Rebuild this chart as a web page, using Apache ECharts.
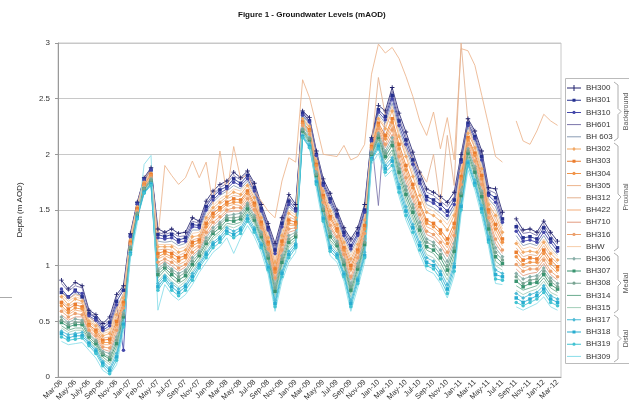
<!DOCTYPE html>
<html>
<head>
<meta charset="utf-8">
<script src="https://cdn.jsdelivr.net/npm/echarts@6/dist/echarts.min.js"></script>
<style>
html, body { margin: 0; padding: 0; background: #fff; }
#chart { width: 629px; height: 410px; }
</style>
</head>
<body>
<div id="chart"></div>
<script>
// monthly readings, Mar-06 .. Mar-12
const months = ["Mar-06","Apr-06","May-06","Jun-06","Jul-06","Aug-06","Sep-06","Oct-06","Nov-06","Dec-06",
  "Jan-07","Feb-07","Mar-07","Apr-07","May-07","Jun-07","Jul-07","Aug-07","Sep-07","Oct-07",
  "Nov-07","Dec-07","Jan-08","Feb-08","Mar-08","Apr-08","May-08","Jun-08","Jul-08","Aug-08",
  "Sep-08","Oct-08","Nov-08","Dec-08","Jan-09","Feb-09","Mar-09","Apr-09","May-09","Jun-09",
  "Jul-09","Aug-09","Sep-09","Oct-09","Nov-09","Dec-09","Jan-10","Feb-10","Mar-10","Apr-10",
  "May-10","Jun-10","Jul-10","Aug-10","Sep-10","Oct-10","Nov-10","Dec-10","Jan-11","Feb-11",
  "Mar-11","Apr-11","May-11","Jun-11","Jul-11","Aug-11","Sep-11","Oct-11","Nov-11","Dec-11",
  "Jan-12","Feb-12","Mar-12"];
// labels shown on every second category
const tickLabels = ["Mar-06","May-06","July-06","Sep-06","Nov-06","Jan-07","Feb-07","May-07","Jul-07","Sep-07",
  "Nov-07","Jan-08","Mar-08","May-08","Jul-08","Sep-08","Nov-08","Jan-09","Mar-09","May-09",
  "Jul-09","Sep-09","Nov-09","Jan-10","Mar-10","May-10","Jul-10","Sep-10","Nov-10","Jan-11",
  "Mar-11","May-11","Jul-11","Sep-11","Nov-11","Jan-12","Mar-12"];

// Background
const bh300 = [.87,.79,.85,.82,.60,.56,.48,.54,.74,.82, 1.29,1.57,1.79,1.88,1.33,1.30,1.33,1.29,1.30,1.43, 1.40,1.58,1.67,1.73,1.76,1.84,1.79,1.85,1.74,1.55, 1.38,1.20,1.43,1.64,1.55,2.39,2.33,2.03,1.78,1.65, 1.50,1.34,1.24,1.34,1.55,2.15,2.44,2.39,2.60,2.37, 2.20,2.02,1.84,1.69,1.66,1.62,1.57,1.66,2.00,2.32, 2.21,2.03,1.70,1.69,1.48,null,1.42,1.32,1.33,1.30, 1.40,1.30,1.22];
const bh301 = [.76,.72,.78,.72,.57,.53,.44,.49,.68,.78, 1.27,1.56,1.78,1.86,1.28,1.26,1.28,1.23,1.25,1.37, 1.36,1.53,1.62,1.68,1.71,1.78,1.74,1.81,1.70,1.51, 1.34,1.14,1.38,1.58,1.51,2.37,2.30,2.00,1.74,1.60, 1.46,1.30,1.18,1.29,1.50,2.13,2.40,2.34,2.53,2.30, 2.13,1.95,1.77,1.62,1.59,1.55,1.49,1.59,1.95,2.28, 2.16,1.98,1.65,1.61,1.42,null,1.35,1.25,1.26,1.24, 1.34,1.24,1.16];
const bh310 = [.79,.72,.77,.75,.55,.51,.42,.46,.65,.24, 1.26,1.55,1.77,1.86,1.25,1.24,1.25,1.21,1.22,1.35, 1.34,1.50,1.59,1.65,1.69,1.75,1.72,1.78,1.67,1.49, 1.32,1.11,1.35,1.55,1.49,2.35,2.29,1.99,1.72,1.57, 1.44,1.27,1.15,1.27,1.48,2.12,2.38,2.31,2.50,2.26, 2.09,1.91,1.74,1.59,1.56,1.51,1.45,1.55,1.93,2.26, 2.14,1.95,1.63,1.57,1.39,null,1.31,1.22,1.23,1.21, 1.30,1.21,1.13];
const bh601 = [.84,.77,.82,.80,.58,.54,.46,.51,.71,.80, 1.28,1.56,1.78,1.87,1.30,1.28,1.30,1.26,1.27,1.40, 1.38,1.55,1.64,1.70,1.74,1.81,1.77,1.83,1.72,1.53, 1.36,1.17,1.40,1.61,1.53,2.38,2.32,2.02,1.76,1.62, 1.48,1.32,1.21,1.32,1.53,2.14,1.54,2.36,2.57,2.33, 2.16,1.98,1.81,1.66,1.63,1.58,1.53,1.62,1.98,2.30, 2.19,2.00,1.68,1.65,1.45,null,1.38,1.29,1.30,1.27, 1.37,1.27,1.19];
const bh603 = [.77,.70,.75,.73,.54,.49,.40,.44,.62,.75, 1.25,1.54,1.76,1.85,1.22,1.21,1.22,1.18,1.20,1.32, 1.32,1.48,1.57,1.63,1.67,1.72,1.69,1.76,1.65,1.47, 1.30,1.09,1.32,1.53,1.47,2.34,2.28,1.97,1.70,1.55, 1.41,1.25,1.12,1.24,1.45,2.11,2.36,2.28,2.46,2.23, 2.05,1.88,1.70,1.55,1.52,1.47,1.41,1.52,1.90,2.24, 2.11,1.92,1.60,1.53,1.36,null,1.27,1.18,1.20,1.18, 1.27,1.17,1.10];
// Proximal
const bh302 = [.72,.65,.70,.68,.50,.46,.37,.39,.56,.71, 1.23,1.53,1.75,1.83,1.17,1.17,1.17,1.12,1.14,1.26, 1.27,1.43,1.52,1.57,1.62,1.66,1.64,1.72,1.61,1.43, 1.25,1.03,1.27,1.47,1.43,2.32,2.25,1.94,1.67,1.49, 1.37,1.21,1.06,1.19,1.41,2.09,2.32,2.23,2.39,2.16, 1.98,1.80,1.63,1.48,1.45,1.40,1.32,1.45,1.85,2.19, 2.06,1.87,1.55,1.45,1.30,null,1.20,1.12,1.13,1.12, 1.21,1.11,1.05];
const bh303 = [.67,.61,.65,.63,.47,.42,.33,.34,.50,.67, 1.21,1.51,1.73,1.82,1.11,1.13,1.11,1.07,1.09,1.21, 1.23,1.38,1.47,1.52,1.57,1.60,1.59,1.67,1.56,1.39, 1.21,.97,1.22,1.41,1.39,2.29,2.22,1.91,1.63,1.44, 1.33,1.16,1.00,1.14,1.36,2.07,2.28,2.17,2.32,2.09, 1.90,1.73,1.56,1.41,1.38,1.32,1.24,1.38,1.80,2.15, 2.01,1.81,1.50,1.37,1.24,null,1.12,1.05,1.07,1.06, 1.14,1.05,.99];
const bh304 = [.64,.58,.62,.61,.46,.40,.31,.31,.47,.65, 1.20,1.50,1.73,1.81,1.08,1.11,1.08,1.04,1.07,1.18, 1.21,1.35,1.44,1.50,1.55,1.57,1.57,1.65,1.54,1.37, 1.19,.94,1.19,1.38,1.37,2.28,2.21,1.90,1.61,1.42, 1.31,1.14,.97,1.12,1.33,2.06,2.26,2.14,2.29,2.05, 1.86,1.70,1.53,1.38,1.35,1.29,1.20,1.34,1.78,2.13, 1.99,1.78,1.48,1.33,1.21,null,1.08,1.01,1.03,1.03, 1.11,1.02,.96];
const bh305 = [.76,.70,.74,.72,.54,.49,.41,.43,.61,.75, 1.26,1.55,1.78,1.86,1.25,1.90,1.81,1.73,1.79,1.94, 1.79,1.93,1.55,2.03,1.64,2.07,1.78,1.82,1.67,1.58, 1.49,1.43,1.76,1.97,1.93,2.67,2.51,2.26,2.00,1.99, 1.98,2.08,1.95,1.98,2.09,2.72,2.99,2.91,2.96,2.86, 2.70,2.52,2.30,2.17,2.38,2.05,2.33,1.95,2.95,2.93, 2.80,2.53,2.26,1.98,1.93,null,2.30,2.12,2.09,2.21, 2.36,2.30,2.26];
const bh312 = [.69,.63,.67,.66,.49,.44,.35,.36,.53,.69, 1.22,1.52,1.74,1.82,1.14,1.15,1.14,1.09,1.12,1.23, 1.25,1.40,1.49,1.55,1.60,1.63,1.62,1.69,1.59,1.41, 1.23,1.00,1.24,1.44,1.41,2.31,2.24,1.93,1.65,1.47, 1.35,1.19,1.03,1.17,1.38,2.08,2.69,2.35,2.25,2.15, 2.05,1.95,1.85,1.75,2.00,1.55,2.17,1.72,3.00,2.29, 2.04,1.84,1.53,1.41,1.27,null,1.16,1.08,1.10,1.09, 1.18,1.08,1.02];
const bh422 = [.62,.56,.60,.59,.44,.39,.29,.29,.45,.64, 1.20,1.50,1.72,1.80,1.06,1.09,1.06,1.01,1.04,1.15, 1.19,1.33,1.42,1.47,1.53,1.55,1.54,1.63,1.52,1.36, 1.17,.92,1.17,1.36,1.36,2.27,2.20,1.88,1.59,1.39, 1.29,1.12,.94,1.09,1.31,2.05,2.25,2.12,2.25,2.02, 1.83,1.66,1.49,1.35,1.32,1.25,1.16,1.31,1.75,2.11, 1.97,1.76,1.46,1.29,1.18,null,1.05,.98,1.00,1.00, 1.08,.99,.93];
const bh710 = [.56,.51,.54,.54,.41,.35,.25,.23,.39,.60, 1.18,1.48,1.71,1.78,1.00,1.04,1.00,.95,.99,1.09, 1.15,1.27,1.36,1.42,1.48,1.49,1.49,1.58,1.48,1.32, 1.13,.86,1.11,1.30,1.32,2.25,2.17,1.85,1.55,1.34, 1.24,1.08,.87,1.04,1.26,2.03,2.21,2.06,2.18,1.94, 1.75,1.59,1.42,1.28,1.25,1.18,1.08,1.23,1.70,2.07, 1.92,1.70,1.41,1.20,1.11,null,.97,.91,.93,.94, 1.02,.92,.87];
const bh316 = [.59,.54,.57,.56,.42,.37,.27,.26,.42,.62, 1.19,1.49,1.71,1.79,1.03,1.06,1.03,.98,1.01,1.12, 1.17,1.30,1.39,1.44,1.50,1.52,1.52,1.60,1.50,1.34, 1.15,.89,1.14,1.33,1.34,2.26,2.18,1.87,1.57,1.36, 1.26,1.10,.90,1.07,1.29,2.04,2.23,2.09,2.22,1.98, 1.79,1.62,1.46,1.31,1.28,1.21,1.12,1.27,1.73,2.09, 1.94,1.73,1.43,1.24,1.14,null,1.01,.95,.97,.97, 1.05,.95,.90];
const bhw = [.74,.68,.72,.70,.52,.47,.39,.41,.59,.73, 1.24,1.53,1.76,1.84,1.19,1.19,1.19,1.15,1.17,1.29, 1.30,1.45,1.54,1.60,1.64,1.69,1.67,1.74,1.63,1.45, 1.28,1.06,1.30,1.50,1.45,2.33,2.26,1.96,1.69,1.52, 1.39,1.23,1.09,1.22,1.43,2.10,2.34,2.25,2.43,2.19, 2.01,1.84,1.67,1.52,1.49,1.44,1.37,1.48,1.88,2.22, 2.09,1.89,1.58,1.49,1.33,null,1.23,1.15,1.17,1.15, 1.24,1.14,1.08];
// Medial
const bh306 = [.54,.49,.52,.51,.39,.33,.23,.21,.36,.58, 1.17,1.47,1.70,1.78,.97,1.02,.97,.93,.96,1.07, 1.13,1.25,1.34,1.39,1.45,1.46,1.47,1.56,1.45,1.30, 1.11,.83,1.09,1.27,1.30,2.23,2.15,1.84,1.53,1.31, 1.22,1.05,.84,1.02,1.24,2.02,2.19,2.03,2.15,1.91, 1.71,1.55,1.39,1.24,1.21,1.14,1.04,1.20,1.68,2.05, 1.89,1.67,1.38,1.16,1.08,null,.93,.88,.90,.91, .98,.89,.84];
const bh307 = [.49,.45,.47,.47,.36,.30,.20,.16,.30,.54, 1.15,1.46,1.69,1.76,.92,.98,.92,.87,.91,1.01, 1.09,1.20,1.29,1.34,1.41,1.40,1.42,1.51,1.41,1.26, 1.07,.77,1.03,1.21,1.26,2.21,2.13,1.81,1.50,1.26, 1.18,1.01,.78,.97,1.19,2.00,2.15,1.98,2.08,1.84, 1.64,1.48,1.32,1.17,1.14,1.07,.96,1.13,1.63,2.01, 1.84,1.62,1.33,1.08,1.02,null,.86,.81,.84,.85, .92,.83,.79];
const bh308 = [.51,.47,.49,.49,.38,.32,.21,.18,.33,.56, 1.16,1.47,1.69,1.77,.95,1.00,.95,.90,.94,1.04, 1.11,1.22,1.31,1.37,1.43,1.43,1.44,1.54,1.43,1.28, 1.09,.80,1.06,1.24,1.28,2.22,2.14,1.82,1.51,1.29, 1.20,1.03,.81,.99,1.21,2.01,2.17,2.01,2.11,1.87, 1.68,1.52,1.35,1.21,1.18,1.10,1.00,1.16,1.65,2.03, 1.87,1.65,1.36,1.12,1.05,null,.90,.84,.87,.88, .95,.86,.81];
const bh314 = [.46,.42,.44,.44,.34,.28,.18,.13,.27,.52, 1.14,1.45,1.68,1.75,.89,.96,.89,.84,.88,.98, 1.06,1.17,1.26,1.31,1.38,1.37,1.39,1.49,1.39,1.24, 1.04,.74,1.01,1.18,1.24,2.20,2.11,1.79,1.48,1.23, 1.16,.99,.75,.94,1.17,1.99,2.13,1.95,2.04,1.80, 1.60,1.44,1.28,1.14,1.11,1.03,.91,1.09,1.60,1.98, 1.82,1.59,1.31,1.04,.99,null,.82,.78,.80,.82, .89,.80,.76];
const bh315 = [.44,.40,.42,.42,.33,.26,.16,.11,.24,.51, 1.13,1.44,1.67,1.74,.86,.93,.86,.81,.86,.95, 1.04,1.15,1.24,1.29,1.36,1.34,1.37,1.47,1.37,1.22, 1.02,.72,.98,1.16,1.22,2.19,2.10,1.78,1.46,1.21, 1.13,.97,.72,.92,1.14,1.98,2.11,1.92,2.01,1.77, 1.56,1.41,1.25,1.10,1.07,.99,.87,1.06,1.58,1.96, 1.79,1.56,1.28,1.00,.96,null,.78,.74,.77,.79, .86,.76,.73];
// Distal
const bh317 = [.41,.38,.39,.40,.31,.25,.14,.08,.21,.49, 1.12,1.44,1.66,1.74,.84,.91,.84,.79,.83,.93, 1.02,1.12,1.21,1.26,1.34,1.31,1.34,1.45,1.34,1.20, 1.00,.69,.95,1.13,1.20,2.17,2.09,1.76,1.44,1.18, 1.11,.94,.69,.89,1.12,1.97,2.09,1.90,1.97,1.73, 1.53,1.37,1.21,1.07,1.04,.95,.83,1.02,1.55,1.94, 1.77,1.54,1.26,.96,.93,null,.75,.71,.74,.76, .82,.73,.70];
const bh318 = [.39,.35,.37,.37,.30,.23,.12,.06,.18,.47, 1.11,1.43,1.66,1.73,.81,.89,.81,.76,.81,.90, 1.00,1.10,1.19,1.24,1.31,1.28,1.32,1.42,1.32,1.18, .98,.66,.93,1.10,1.18,2.16,2.07,1.75,1.42,1.16, 1.09,.92,.66,.87,1.09,1.96,2.07,1.87,1.94,1.70, 1.49,1.34,1.18,1.03,1.00,.92,.79,.99,1.53,1.92, 1.74,1.51,1.23,.92,.90,null,.71,.67,.70,.73, .79,.70,.67];
const bh319 = [.36,.33,.34,.35,.28,.21,.10,.03,.15,.45, 1.10,1.42,1.65,1.72,.78,.87,.78,.73,.78,.87, .98,1.07,1.16,1.21,1.29,1.25,1.29,1.40,1.30,1.16, .96,.63,.90,1.07,1.16,2.15,2.06,1.73,1.40,1.13, 1.07,.90,.63,.84,1.07,1.95,2.05,1.84,1.90,1.66, 1.45,1.30,1.14,1.00,.97,.88,.75,.95,1.50,1.90, 1.72,1.48,1.21,.88,.87,null,.67,.64,.67,.70, .76,.67,.64];
const bh309 = [.32,.29,.30,.31,.24,.17,.06,.02,.11,.41, 1.06,1.38,1.91,1.99,.60,.83,.74,.69,.74,.83, .94,1.03,1.12,1.17,1.25,1.11,1.25,1.36,1.26,1.12, .92,.59,.86,1.03,1.12,2.37,2.10,1.69,1.36,1.09, 1.03,.86,.59,.80,1.03,1.91,2.01,1.80,1.86,1.62, 1.41,1.26,1.10,.96,.93,.84,.71,.91,1.46,1.86, 1.68,1.44,1.17,.84,.83,null,.63,.60,.63,.66, .72,.63,.60];

// marker shapes for the chart and matching legend keys (line + marker)
const marks = {
  cross: { symbol: "path://M4,0H6V10H4ZM0,4H10V6H0Z", size: 4.5, key: "path://M0,4.5H14V5.5H0ZM6.5,2H7.5V8H6.5ZM4,4.5H10V5.5H4Z" },
  rect: { symbol: "rect", size: 3.5, key: "path://M0,4.5H14V5.5H0ZM5.5,3.5H8.5V6.5H5.5Z" },
  circle: { symbol: "circle", size: 3.5, key: "path://M0,4.5H14V5.5H0ZM8.6,5A1.6,1.6 0 1 1 5.4,5A1.6,1.6 0 1 1 8.6,5Z" },
  diamond: { symbol: "diamond", size: 4, key: "path://M0,4.5H14V5.5H0ZM7,3L9,5L7,7L5,5Z" },
  none: { symbol: "none", size: 0, key: "path://M0,4.5H14V5.5H0Z" }
};

const boreholes = [
  { name: "BH300", data: bh300, color: "#22226e", mark: "cross" },
  { name: "BH301", data: bh301, color: "#263190", mark: "rect" },
  { name: "BH310", data: bh310, color: "#4347aa", mark: "circle" },
  { name: "BH601", data: bh601, color: "#7a74aa", mark: "none" },
  { name: "BH 603", data: bh603, color: "#8a9cb4", mark: "none" },
  { name: "BH302", data: bh302, color: "#f2a966", mark: "diamond" },
  { name: "BH303", data: bh303, color: "#eb7d2e", mark: "rect" },
  { name: "BH304", data: bh304, color: "#f19448", mark: "circle" },
  { name: "BH305", data: bh305, color: "#ecb48c", mark: "none" },
  { name: "BH312", data: bh312, color: "#e4b290", mark: "none" },
  { name: "BH422", data: bh422, color: "#f2ad7a", mark: "none" },
  { name: "BH710", data: bh710, color: "#e29a7e", mark: "none" },
  { name: "BH316", data: bh316, color: "#eca06c", mark: "circle" },
  { name: "BHW", data: bhw, color: "#f6cdaa", mark: "none" },
  { name: "BH306", data: bh306, color: "#88aea8", mark: "diamond" },
  { name: "BH307", data: bh307, color: "#3a9470", mark: "rect" },
  { name: "BH308", data: bh308, color: "#78a492", mark: "circle" },
  { name: "BH314", data: bh314, color: "#6aab8e", mark: "none" },
  { name: "BH315", data: bh315, color: "#a2ceb8", mark: "none" },
  { name: "BH317", data: bh317, color: "#4cbad5", mark: "diamond" },
  { name: "BH318", data: bh318, color: "#28add0", mark: "rect" },
  { name: "BH319", data: bh319, color: "#42c3d2", mark: "circle" },
  { name: "BH309", data: bh309, color: "#88dde9", mark: "none" }
];
const groups = [
  { name: "Background", y1: 81, y2: 142 },
  { name: "Proximal", y1: 142, y2: 252 },
  { name: "Medial", y1: 252, y2: 314 },
  { name: "Distal", y1: 314, y2: 363 }
];

const myChart = echarts.init(document.getElementById("chart"));
const font = "Liberation Sans, Arial, sans-serif";

const series = boreholes.map((b) => ({
  name: b.name,
  type: "line",
  data: b.data,
  color: b.color,
  symbol: marks[b.mark].symbol,
  showSymbol: b.mark !== "none",
  symbolSize: marks[b.mark].size,
  lineStyle: { width: 0.9, color: b.color, opacity: 0.95 },
  itemStyle: { color: b.color },
  connectNulls: false,
  animation: false
}));

const graphic = [
  { type: "rect", shape: { x: 565.5, y: 78.5, width: 80, height: 285 },
    style: { fill: null, stroke: "#bbb", lineWidth: 1 }, silent: true },
  { type: "line", shape: { x1: 0, y1: 297.5, x2: 12, y2: 297.5 },
    style: { stroke: "#aaa", lineWidth: 1 }, silent: true }
];
groups.forEach((g) => {
  const m = (g.y1 + g.y2) / 2;
  graphic.push({
    type: "polyline",
    shape: { points: [[614, g.y1 + 1], [618, g.y1 + 4], [618, m - 3], [621, m], [618, m + 3], [618, g.y2 - 4], [614, g.y2 - 1]] },
    style: { fill: null, stroke: "#999", lineWidth: 0.8 },
    silent: true
  });
  graphic.push({
    type: "text", x: 626, y: m, rotation: Math.PI / 2,
    style: { text: g.name, font: "7px " + font, fill: "#555", align: "center", verticalAlign: "middle" },
    silent: true
  });
});

const option = {
  backgroundColor: "#fff",
  animation: false,
  title: {
    text: "Figure 1 - Groundwater Levels (mAOD)",
    left: 233, top: 6,
    textStyle: { fontFamily: font, fontSize: 8, fontWeight: "bold", color: "#111" }
  },
  grid: { left: 58, right: 68, top: 43, bottom: 33, show: true, borderColor: "#c8c8c8", borderWidth: 1 },
  legend: {
    orient: "vertical",
    left: 567, top: 84,
    itemWidth: 14, itemHeight: 8, itemGap: 4.2,
    symbolKeepAspect: true,
    padding: 0,
    textStyle: { fontFamily: font, fontSize: 8, lineHeight: 8, color: "#333" },
    data: boreholes.map((b) => ({ name: b.name, icon: marks[b.mark].key }))
  },
  xAxis: {
    type: "category",
    boundaryGap: true,
    data: months,
    axisLine: { lineStyle: { color: "#999" } },
    axisTick: { interval: 0, length: 3, lineStyle: { color: "#999" } },
    axisLabel: {
      interval: 0, rotate: 45, margin: 4,
      fontFamily: font, fontSize: 7.5, color: "#333",
      formatter: (value, index) => (index % 2 === 0 ? tickLabels[index / 2] : "")
    },
    splitLine: { show: false }
  },
  yAxis: {
    type: "value",
    min: 0, max: 3, interval: 0.5,
    name: "Depth (m AOD)",
    nameLocation: "middle",
    nameRotate: 90,
    nameGap: 34,
    nameTextStyle: { fontFamily: font, fontSize: 8, color: "#222" },
    axisLine: { show: true, lineStyle: { color: "#999" } },
    axisTick: { show: true, length: 3, lineStyle: { color: "#999" } },
    axisLabel: { fontFamily: font, fontSize: 8, color: "#333", margin: 8 },
    splitLine: { lineStyle: { color: "#c8c8c8", width: 1 } }
  },
  graphic: graphic,
  series: series
};

option && myChart.setOption(option);
window.addEventListener("resize", function () {
  myChart && myChart.resize();
});
</script>
</body>
</html>
